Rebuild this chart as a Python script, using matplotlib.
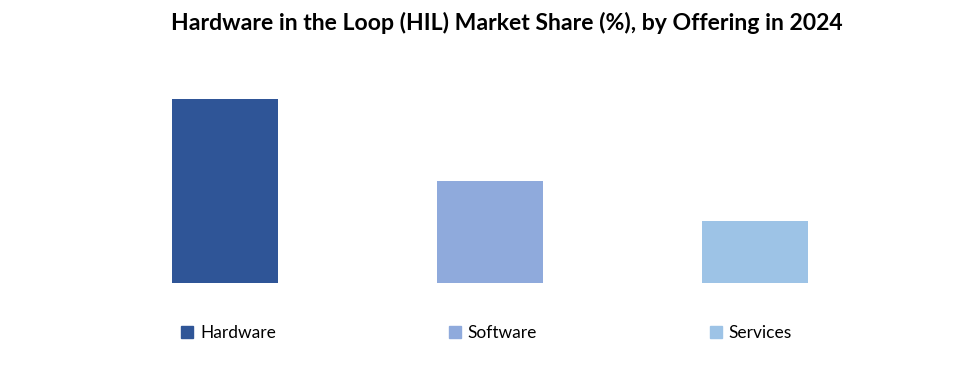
import matplotlib.pyplot as plt
from matplotlib.patches import Patch

categories = ["Hardware", "Software", "Services"]
shares = [55.0, 30.5, 18.5]
colors = ["#2F5597", "#8FAADC", "#9DC3E6"]

plt.rcParams["font.family"] = ["Lato", "DejaVu Sans"]

fig = plt.figure(figsize=(9.67, 3.75), dpi=100)
ax = fig.add_axes([92.5 / 967, 1 - 283 / 375, 795 / 967, (283 - 60) / 375])

x = range(len(categories))
ax.bar(x, shares, width=0.4, color=colors)
ax.set_xlim(-0.5, 2.5)
ax.set_ylim(0, 55.0 * (283 - 60) / (283 - 99))
ax.axis("off")

fig.suptitle("Hardware in the Loop (HIL) Market Share (%), by Offering in 2024",
             x=507 / 967, y=1 - 23 / 375, va="center", fontsize=16.6, fontweight="bold")

handles = [Patch(color=c) for c in colors]
fig.legend(handles, categories, ncol=3, mode="expand", frameon=False,
           bbox_to_anchor=(181 / 967, 0.062, (792 - 181) / 967, 0.1),
           loc="center", fontsize=12.5, handlelength=0.7, handleheight=0.7,
           handletextpad=0.4, borderpad=0, borderaxespad=0)

fig.savefig("out.png", dpi=100)
